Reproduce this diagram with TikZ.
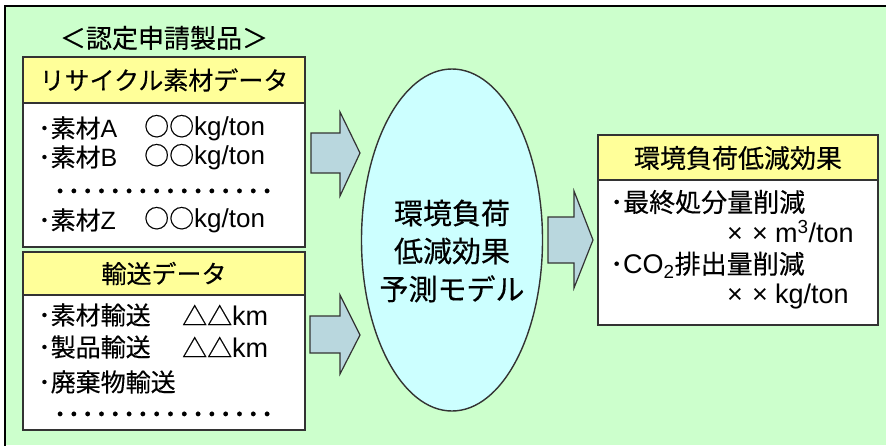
\documentclass[tikz,border=0pt]{standalone}
\usepackage{fontspec}
\setmainfont{Noto Sans CJK JP}[FakeBold=0.35]
\newfontfamily\lat{Liberation Sans}
\usetikzlibrary{shapes.geometric}
\definecolor{bggreen}{HTML}{CCFFCC}
\definecolor{hdryellow}{HTML}{FFFF99}
\definecolor{ellcyan}{HTML}{CCFFFF}
\definecolor{arrowblue}{HTML}{B9D7DE}
\definecolor{edge}{HTML}{333333}
\newcommand{\timesx}{\makebox[25pt][l]{×}\makebox[23pt][l]{×}}
\begin{document}
\begin{tikzpicture}[x=1pt,y=-1pt,
  box/.style={draw=edge,line width=1.4pt,fill=white,inner sep=0pt},
  hdr/.style={draw=edge,line width=1.4pt,fill=hdryellow,inner sep=0pt},
  blockarrow/.style={draw=edge,line width=1.2pt,fill=arrowblue,line join=miter},
  fa/.style={font=\fontsize{25}{28}\selectfont,inner sep=0pt},
  fb/.style={font=\fontsize{25}{28}\selectfont,inner sep=0pt,anchor=west},
  fr/.style={font=\fontsize{26}{30}\selectfont,inner sep=0pt,anchor=west},
  dots/.style={font=\fontsize{27.6}{28}\selectfont,inner sep=0pt,anchor=west}]
\useasboundingbox (0,0) rectangle (886,445);
\fill[white] (0,0) rectangle (886,445);
\fill[bggreen] (5,6) rectangle (886,445);
\draw[line width=2pt] (5,450) -- (5,6) -- (890,6);

% title
\node[fa,font=\fontsize{26}{28}\selectfont] (title) at (164,38) {＜認定申請製品＞};

% box 1
\node[box,minimum width=282pt,minimum height=190pt] (recbox) at (164,152) {};
\node[hdr,minimum width=282pt,minimum height=46pt] (rechdr) at (164,80) {};
\node[fa] (rectitle) at (164,80) {リサイクル素材データ};
\node[fb] (ra) at (38,128) {･素材{\lat A}};
\node[fb] (rav) at (144,128) {○○{\lat\fontsize{26}{28}\selectfont kg/ton}};
\node[fb] (rb) at (38,157) {･素材{\lat B}};
\node[fb] (rbv) at (144,157) {○○{\lat\fontsize{26}{28}\selectfont kg/ton}};
\node[dots] (rdots) at (53,195) {････････････････};
\node[fb] (rz) at (38,220) {･素材{\lat Z}};
\node[fb] (rzv) at (144,220) {○○{\lat\fontsize{26}{28}\selectfont kg/ton}};

% box 2
\node[box,minimum width=282pt,minimum height=178pt] (trbox) at (164,341) {};
\node[hdr,minimum width=282pt,minimum height=43pt] (trhdr) at (164,273.5) {};
\node[fa] (trtitle) at (164,273.5) {輸送データ};
\node[fb] (ta) at (38,315) {･素材輸送};
\node[fb] (tav) at (182,315) {△△{\lat\fontsize{27}{28}\selectfont km}};
\node[fb] (tb) at (38,347) {･製品輸送};
\node[fb] (tbv) at (182,347) {△△{\lat\fontsize{27}{28}\selectfont km}};
\node[fb] (tc) at (38,382) {･廃棄物輸送};
\node[dots] (tdots) at (53,418) {････････････････};

% ellipse
\node[ellipse,draw=edge,line width=1.4pt,fill=ellcyan,minimum width=181pt,minimum height=342pt,inner sep=0pt] (model) at (452,240) {};
\node[align=center,inner sep=0pt,font=\fontsize{29}{38}\selectfont] (modeltext) at (452,251) {環境負荷\\低減効果\\予測モデル};

% right box
\node[box,minimum width=280pt,minimum height=190pt] (effbox) at (738,230) {};
\node[hdr,minimum width=280pt,minimum height=45pt] (effhdr) at (738,157.5) {};
\node[fa,font=\fontsize{26}{28}\selectfont] (efftitle) at (738,158) {環境負荷低減効果};
\node[fr] (e1) at (610,202) {･最終処分量削減};
\node[fr] (e1v) at (727,232) {{\lat\fontsize{27}{30}\selectfont \timesx m\textsuperscript{3}/ton}};
\node[fr] (e2) at (610,265) {･{\lat\fontsize{27}{30}\selectfont CO\textsubscript{2}}排出量削減};
\node[fr] (e2v) at (727,297) {{\lat\fontsize{27}{30}\selectfont \timesx kg/ton}};

% block arrows
\draw[blockarrow] (311,133) -- (340,133) -- (340,112) -- (360,153) -- (340,196) -- (340,173) -- (311,173) -- cycle;
\draw[blockarrow] (310,316) -- (340,316) -- (340,295) -- (360,335) -- (340,374) -- (340,353) -- (310,353) -- cycle;
\draw[blockarrow] (548,217) -- (574,217) -- (574,191) -- (593,240) -- (574,288) -- (574,263) -- (548,263) -- cycle;
\end{tikzpicture}
\end{document}
